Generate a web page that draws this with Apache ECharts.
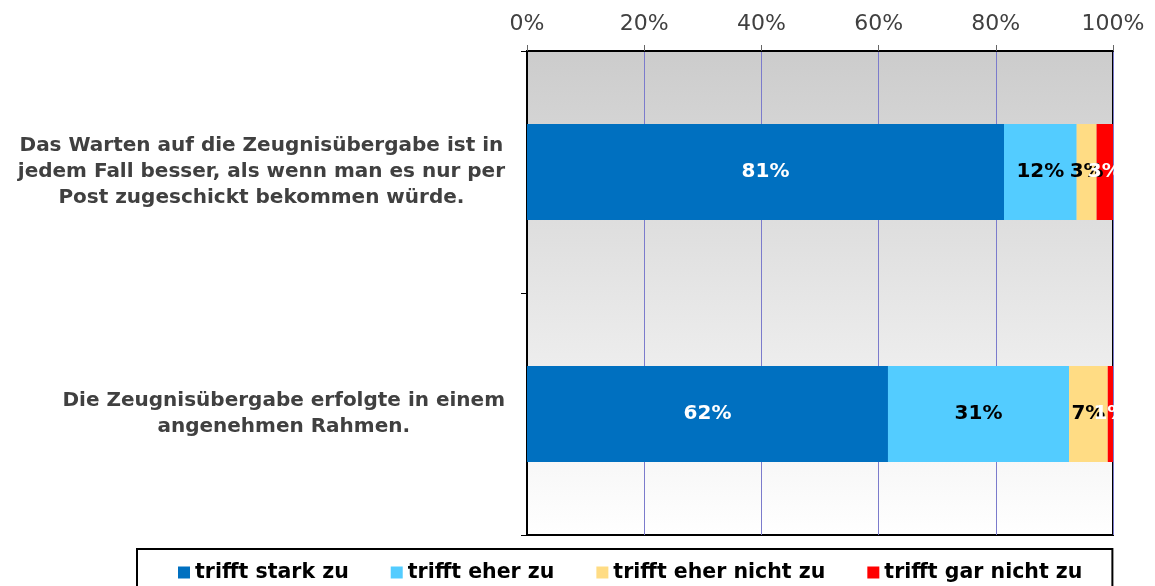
<!DOCTYPE html>
<html>
<head>
<meta charset="utf-8">
<script src="https://cdn.jsdelivr.net/npm/echarts@6/dist/echarts.min.js"></script>
<style>
  html, body { margin: 0; padding: 0; background: #fff; }
  #chart { width: 1155px; height: 586px; }
</style>
</head>
<body>
<div id="chart"></div>
<script>
const categories = [
  'Das Warten auf die Zeugnisübergabe ist in\njedem Fall besser, als wenn man es nur per\nPost zugeschickt bekommen würde.',
  'Die Zeugnisübergabe erfolgte in einem\nangenehmen Rahmen.'
]
const seriesNames = ['trifft stark zu', 'trifft eher zu', 'trifft eher nicht zu', 'trifft gar nicht zu']
const starkZu = [81.4, 61.6]
const eherZu = [12.4, 30.9]
const eherNichtZu = [3.4, 6.6]
const garNichtZu = [2.8, 0.9]
const xTicks = [0, 20, 40, 60, 80, 100]

const colors = ['#0070C0', '#53CCFF', '#FFDC84', '#FF0000']
const labelColors = ['#fff', '#000', '#000', '#fff']
const font = 'DejaVu Sans'

const chart = echarts.init(document.getElementById('chart'))

const makeSeries = (name, data, i) => ({
  name,
  type: 'bar',
  stack: 'total',
  data,
  barWidth: 96,
  itemStyle: { color: colors[i] },
  label: {
    show: true,
    position: 'inside',
    color: labelColors[i],
    fontFamily: font,
    fontWeight: 'bold',
    fontSize: 20,
    formatter: p => Math.round(p.value) + '%'
  }
})

chart.setOption({
  animation: false,
  backgroundColor: '#fff',
  grid: {
    left: 527,
    right: 42,
    top: 51,
    bottom: 51,
    show: true,
    borderColor: '#000',
    borderWidth: 2,
    backgroundColor: new echarts.graphic.LinearGradient(0, 0, 0, 1, [
      { offset: 0, color: '#cccccc' },
      { offset: 1, color: '#ffffff' }
    ])
  },
  legend: {
    data: seriesNames,
    left: 137,
    top: 549,
    padding: [13, 30, 20, 41],
    itemGap: 42,
    itemWidth: 12,
    itemHeight: 12,
    icon: 'rect',
    borderColor: '#000',
    borderWidth: 2,
    textStyle: { fontFamily: font, fontWeight: 'bold', fontSize: 20.5, color: '#000' }
  },
  xAxis: {
    type: 'value',
    position: 'top',
    min: xTicks[0],
    max: xTicks[xTicks.length - 1],
    interval: 20,
    axisLine: { show: true, lineStyle: { color: '#000', width: 2 } },
    axisTick: { show: true, length: 6, lineStyle: { color: '#666' } },
    splitLine: { show: true, lineStyle: { color: '#7b7bcc', width: 1 } },
    axisLabel: {
      margin: 16,
      fontFamily: font,
      fontSize: 22,
      color: '#404040',
      formatter: '{value}%'
    }
  },
  yAxis: {
    type: 'category',
    inverse: true,
    data: categories,
    axisLine: { show: true, lineStyle: { color: '#000', width: 2 } },
    axisTick: { show: true, length: 6, lineStyle: { color: '#000' } },
    axisLabel: {
      margin: 22,
      align: 'right',
      formatter: v => v.split('\n').map(l => '{c|' + l + '}').join('\n'),
      rich: {
        c: {
          align: 'center',
          fontFamily: font,
          fontWeight: 'bold',
          fontSize: 20,
          lineHeight: 26,
          color: '#404040'
        }
      }
    }
  },
  series: [
    makeSeries(seriesNames[0], starkZu, 0),
    makeSeries(seriesNames[1], eherZu, 1),
    makeSeries(seriesNames[2], eherNichtZu, 2),
    makeSeries(seriesNames[3], garNichtZu, 3)
  ]
})
</script>
</body>
</html>
